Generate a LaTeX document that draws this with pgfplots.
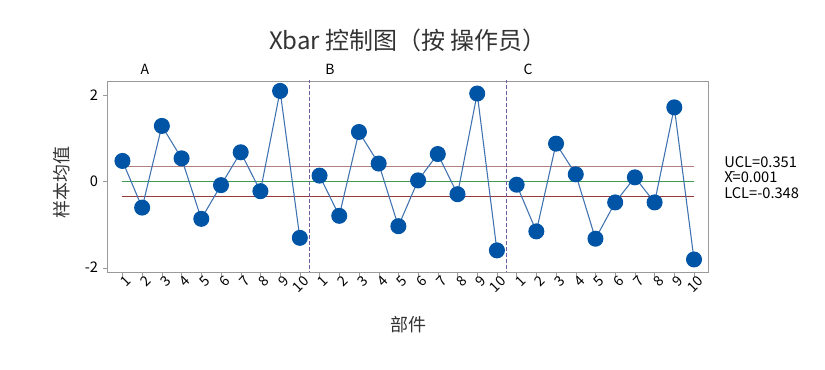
\documentclass[border=0pt]{standalone}
\usepackage{fontspec}
\setmainfont{Noto Sans CJK SC}
\usepackage{pgfplots}
\pgfplotsset{compat=1.18}
\definecolor{ptc}{HTML}{0054A6}
\definecolor{lnc}{HTML}{3F72AE}
\definecolor{uclc}{HTML}{B08080}
\definecolor{lclc}{HTML}{943A3A}
\definecolor{cenc}{HTML}{3E9A52}
\definecolor{vlc}{HTML}{6E5A9E}
\definecolor{axc}{HTML}{9A9A9A}
\begin{document}
\begin{tikzpicture}
\useasboundingbox (0,0) rectangle (618.75pt,277.5pt);
\begin{axis}[
  at={(80.6pt,73.5pt)}, anchor=south west, scale only axis,
  width=450.4pt, height=143.25pt,
  xmin=0.24, xmax=30.71, ymin=-2.10, ymax=2.32,
  xtick={1,2,3,4,5,6,7,8,9,10,11,12,13,14,15,16,17,18,19,20,21,22,23,24,25,26,27,28,29,30},
  xticklabels={1,2,3,4,5,6,7,8,9,10,1,2,3,4,5,6,7,8,9,10,1,2,3,4,5,6,7,8,9,10},
  ytick={-2,0,2},
  tick pos=left, tick align=outside, major tick length=3.5pt,
  axis line style={axc}, tick style={axc},
  /pgf/number format/assume math mode=true,
  tick label style={font=\fontsize{11}{11}\selectfont},
  x tick label style={rotate=45, anchor=north east, inner sep=0.5pt, xshift=3pt, font=\fontsize{10.5}{10.5}\selectfont},
  clip=true,
]
\addplot[uclc, line width=0.8pt] coordinates {(1,0.351)(30,0.351)};
\addplot[cenc, line width=0.8pt] coordinates {(1,0.001)(30,0.001)};
\addplot[lclc, line width=0.8pt] coordinates {(1,-0.348)(30,-0.348)};
\addplot[vlc, line width=0.8pt, dash pattern=on 3pt off 1.5pt] coordinates {(10.5,-2.3)(10.5,2.5)};
\addplot[vlc, line width=0.8pt, dash pattern=on 3pt off 1.5pt] coordinates {(20.5,-2.3)(20.5,2.5)};
\addplot[lnc, line width=0.8pt, mark=*, mark size=5.6pt, mark options={fill=ptc, draw=ptc, solid}] coordinates {
(1,0.47)(2,-0.61)(3,1.28)(4,0.53)(5,-0.87)(6,-0.09)(7,0.67)(8,-0.23)(9,2.09)(10,-1.31)};
\addplot[lnc, line width=0.8pt, mark=*, mark size=5.6pt, mark options={fill=ptc, draw=ptc, solid}] coordinates {
(11,0.13)(12,-0.80)(13,1.14)(14,0.41)(15,-1.04)(16,0.02)(17,0.63)(18,-0.30)(19,2.03)(20,-1.60)};
\addplot[lnc, line width=0.8pt, mark=*, mark size=5.6pt, mark options={fill=ptc, draw=ptc, solid}] coordinates {
(21,-0.08)(22,-1.16)(23,0.87)(24,0.16)(25,-1.33)(26,-0.49)(27,0.09)(28,-0.49)(29,1.71)(30,-1.81)};
\end{axis}
\node[font=\fontsize{18}{18}\selectfont, text=black!80] at (306pt,247.5pt) {Xbar 控制图（按 操作员）};
\node[font=\fontsize{10.5}{10.5}\selectfont] at (108.75pt,225.75pt) {A};
\node[font=\fontsize{10.5}{10.5}\selectfont] at (247.5pt,225.75pt) {B};
\node[font=\fontsize{10.5}{10.5}\selectfont] at (396pt,225.75pt) {C};
\node[font=\fontsize{13.5}{13.5}\selectfont, rotate=90, text=black!80] at (46.5pt,140.25pt) {样本均值};
\node[font=\fontsize{13.5}{13.5}\selectfont, text=black!80] at (306pt,33.75pt) {部件};
\node[font=\fontsize{11}{11}\selectfont, anchor=west, inner sep=0pt] at (543pt,156pt) {UCL=0.351};
\node[font=\fontsize{11}{11}\selectfont, anchor=west, inner sep=0pt] at (543pt,144.5pt) {\={X}=0.001};
\node[font=\fontsize{11}{11}\selectfont, anchor=west, inner sep=0pt] at (543pt,133pt) {LCL=-0.348};
\end{tikzpicture}
\end{document}
